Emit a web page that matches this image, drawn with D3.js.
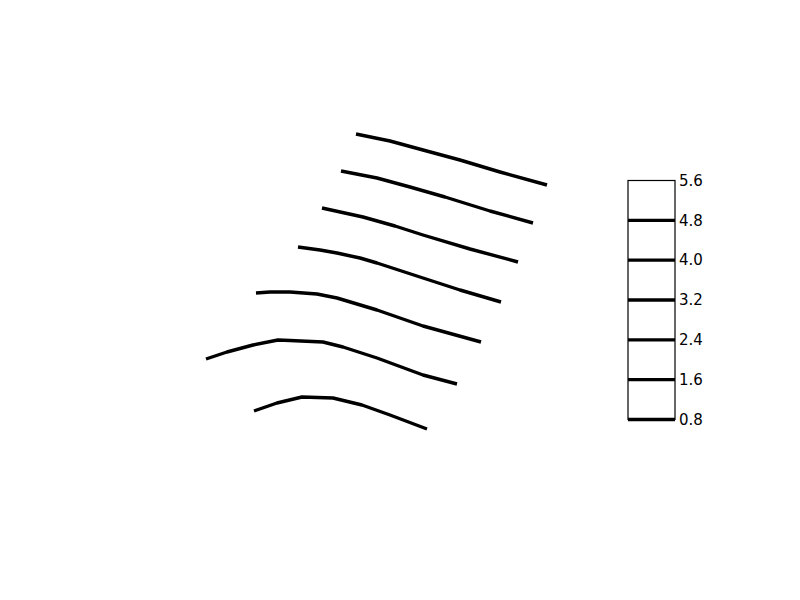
<!DOCTYPE html>
<html><head><meta charset="utf-8">
<script src="https://cdn.jsdelivr.net/npm/d3@7"></script>
<style>body{margin:0;background:#fff}</style>
</head><body>
<svg id="chart" width="800" height="600"></svg>
<script>
// contour levels (bottom to top)
const levels = [0.8, 1.6, 2.4, 3.2, 4.0, 4.8, 5.6];
// colorbar tick labels
const tickLabels = ["0.8", "1.6", "2.4", "3.2", "4.0", "4.8", "5.6"];
// levels drawn as lines inside the colorbar
const colorbarLines = [0.8, 1.6, 2.4, 3.2, 4.0, 4.8];
// contour paths, data coordinates [x, y]
const line08 = [[15.4,12.9],[17.7,13.7],[20.2,14.3],[23.3,14.2],[26.2,13.5],[29.0,12.5],[32.7,11.1]];
const line16 = [[10.6,18.1],[12.7,18.8],[15.3,19.5],[17.8,20.0],[19.0,19.95],[22.3,19.8],[24.3,19.3],[27.7,18.2],[32.3,16.5],[35.7,15.6]];
const line24 = [[15.6,24.7],[17.0,24.8],[19.0,24.8],[21.7,24.6],[23.7,24.2],[27.7,23.0],[32.3,21.4],[38.1,19.8]];
const line32 = [[19.8,29.3],[22.0,29.0],[23.7,28.7],[26.0,28.2],[27.7,27.7],[32.3,26.2],[36.0,25.0],[40.1,23.8]];
const line40 = [[22.2,33.2],[26.3,32.3],[29.5,31.4],[32.3,30.5],[37.0,29.1],[41.8,27.8]];
const line48 = [[24.1,36.9],[27.7,36.2],[31.0,35.3],[34.5,34.3],[39.0,32.9],[43.3,31.7]];
const line56 = [[25.6,40.6],[29.0,39.9],[32.3,39.0],[36.0,38.0],[40.0,36.8],[44.7,35.5]];
const contourLines = [line08, line16, line24, line32, line40, line48, line56];

const svg = d3.select("#chart");
const x = d3.scaleLinear().domain([0, 48]).range([100, 580]);
const y = d3.scaleLinear().domain([0, 48]).range([540, 60]);
const line = d3.line().x(d => x(d[0])).y(d => y(d[1]));

svg.append("g").selectAll("path").data(contourLines).join("path")
  .attr("d", line)
  .attr("fill", "none")
  .attr("stroke", "#000")
  .attr("stroke-width", 3.4)
  .attr("stroke-linejoin", "round")
  .attr("stroke-linecap", "butt");

// colorbar
const cbLeft = 628, cbRight = 675;
const cy = d3.scaleLinear().domain([0.8, 5.6]).range([419.5, 180.5]);
const cb = svg.append("g");
cb.selectAll("line.lv").data(colorbarLines).join("line")
  .attr("class", "lv")
  .attr("x1", cbLeft).attr("x2", cbRight)
  .attr("y1", d => cy(d)).attr("y2", d => cy(d))
  .attr("stroke", "#000").attr("stroke-width", 3.4);
cb.append("rect")
  .attr("x", cbLeft).attr("y", cy(5.6))
  .attr("width", cbRight - cbLeft).attr("height", cy(0.8) - cy(5.6))
  .attr("fill", "none").attr("stroke", "#000").attr("stroke-width", 1.2);
const axis = d3.axisRight(cy).tickValues(levels)
  .tickFormat((d, i) => tickLabels[i]).tickSize(0).tickPadding(4);
const ag = cb.append("g").attr("transform", `translate(${cbRight},0)`).call(axis);
ag.select(".domain").remove();
ag.attr("font-size", null).attr("font-family", null);
ag.selectAll("text").style("font-family", "DejaVu Sans").style("font-size", "15px").attr("fill", "#000");
</script>
</body></html>
